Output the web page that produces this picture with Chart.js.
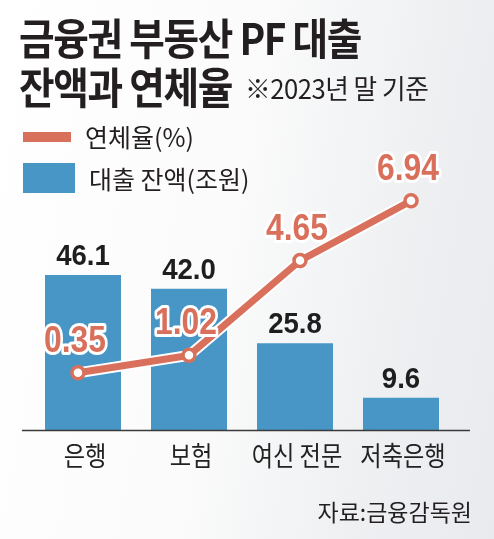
<!DOCTYPE html>
<html>
<head>
<meta charset="utf-8">
<script src="https://cdn.jsdelivr.net/npm/chart.js@4.4.0/dist/chart.umd.min.js"></script>
<style>
    * {
        margin: 0;
        padding: 0;
    }

    body {
        width: 494px;
        height: 539px;
        overflow: hidden;
        position: relative;
        font-family: "Noto Sans CJK KR", "Noto Sans", sans-serif;
        color: #231f20;
        background: linear-gradient(100deg, #ffffff 0%, #fbfbfb 45%, #eef0f2 75%, #e8eaee 100%);
    }

    #chart {
        position: absolute;
        left: 0;
        top: 0;
    }

    .title {
        position: absolute;
        left: 19px;
        font-weight: bold;
        font-size: 43px;
        letter-spacing: -1.5px;
        line-height: 1;
        transform-origin: left top;
        transform: scaleX(0.9);
        white-space: nowrap;
    }

    .note {
        position: absolute;
        left: 245px;
        top: 74px;
        font-size: 27px;
        line-height: 1;
        letter-spacing: -0.5px;
        transform-origin: left top;
        transform: scaleX(0.95);
        white-space: nowrap;
    }

    .legend {
        position: absolute;
        left: 23px;
        font-size: 25px;
        line-height: 1;
        white-space: nowrap;
        display: flex;
        align-items: center;
    }

    .legend span.mark {
        display: inline-block;
        margin-right: 14px;
    }

    .source {
        position: absolute;
        right: 22px;
        top: 494px;
        font-size: 23px;
        white-space: nowrap;
    }
</style>
</head>
<body>
<canvas id="chart" width="494" height="539"></canvas>

<div class="title" style="top: 15px;">금융권 부동산 PF 대출</div>
<div class="title" style="top: 64px;">잔액과 연체율</div>
<div class="note">※2023년 말 기준</div>

<div class="legend" style="top: 124px;"><span class="mark" style="width: 48px; height: 10px; background: #d9705c;"></span>연체율(%)</div>
<div class="legend" style="top: 163px;"><span class="mark" style="width: 52px; height: 30px; background: #4896c6;"></span>대출 잔액(조원)</div>

<div class="source">자료:금융감독원</div>

<script>
// data
const categories = ["은행", "보험", "여신 전문", "저축은행"];
const loanBalance = [46.1, 42.0, 25.8, 9.6];      // 조원
const overdueRate = [0.35, 1.02, 4.65, 6.94];     // %

const BLUE = "#4896c6";
const SALMON = "#d9705c";

// rate points on their own linear x scale (index based)
const ratePoints = overdueRate.map((v, i) => ({ x: i, y: v }));

// draw text squeezed horizontally (the original uses a condensed face)
function squeezedText(ctx, txt, x, y, sx, stroke) {
    ctx.save();
    ctx.translate(x, y);
    ctx.scale(sx, 1);
    if (stroke) ctx.strokeText(txt, 0, 0);
    ctx.fillText(txt, 0, 0);
    ctx.restore();
}

//  baseline + category labels  //
const axisPlugin = {
    id: "axisLabels",
    afterDatasetsDraw(chart) {
        const { ctx, chartArea } = chart;
        const xScale = chart.scales.x;
        ctx.save();
        ctx.strokeStyle = "#3a3a3a";
        ctx.lineWidth = 1.5;
        ctx.beginPath();
        ctx.moveTo(22, chartArea.bottom + 0.5);
        ctx.lineTo(470, chartArea.bottom + 0.5);
        ctx.stroke();

        ctx.fillStyle = "#222";
        ctx.font = "27px 'Noto Sans CJK KR'";
        ctx.textAlign = "center";
        ctx.textBaseline = "middle";
        categories.forEach((c, i) => {
            squeezedText(ctx, c, xScale.getPixelForTick(i) + 2, chartArea.bottom + 26, 0.86, false);
        });
        ctx.restore();
    }
};

//  value labels  //
const valueLabelPlugin = {
    id: "valueLabels",
    afterDatasetsDraw(chart) {
        const ctx = chart.ctx;
        ctx.save();
        ctx.textAlign = "center";
        ctx.textBaseline = "alphabetic";

        // bars
        const barMeta = chart.getDatasetMeta(0);
        ctx.font = "bold 30px 'Liberation Sans', Arial, sans-serif";
        ctx.fillStyle = "#1e1e1e";
        barMeta.data.forEach((bar, i) => {
            squeezedText(ctx, loanBalance[i].toFixed(1), bar.x, bar.y - 10, 0.92, false);
        });

        // rates
        const lineMeta = chart.getDatasetMeta(2);
        ctx.font = "bold 37px 'Liberation Sans', Arial, sans-serif";
        ctx.lineJoin = "round";
        ctx.strokeStyle = "#ffffff";
        ctx.lineWidth = 6;
        ctx.fillStyle = SALMON;
        lineMeta.data.forEach((pt, i) => {
            squeezedText(ctx, overdueRate[i].toFixed(2), pt.x - 3, pt.y - 21, 0.86, true);
        });
        ctx.restore();
    }
};

const ctx = document.getElementById("chart").getContext("2d");

new Chart(ctx, {
    data: {
        labels: categories,
        datasets: [
            {
                type: "bar",
                label: "대출 잔액(조원)",
                data: loanBalance,
                backgroundColor: BLUE,
                borderWidth: 0,
                grouped: false,
                categoryPercentage: 0.717,
                barPercentage: 1,
                xAxisID: "x",
                yAxisID: "y",
                order: 3
            },
            {
                // white casing under the rate line
                type: "line",
                label: "casing",
                data: ratePoints,
                borderColor: "#ffffff",
                borderWidth: 11,
                pointRadius: 0,
                pointHoverRadius: 0,
                xAxisID: "x2",
                yAxisID: "y2",
                order: 2
            },
            {
                type: "line",
                label: "연체율(%)",
                data: ratePoints,
                borderColor: SALMON,
                borderWidth: 7,
                pointRadius: 6,
                pointBorderWidth: 3.5,
                pointBackgroundColor: "#ffffff",
                pointBorderColor: SALMON,
                pointHoverRadius: 6,
                xAxisID: "x2",
                yAxisID: "y2",
                order: 1
            }
        ]
    },
    options: {
        responsive: false,
        animation: false,
        layout: {
            padding: { left: 30, right: 40, top: 170, bottom: 109 }
        },
        plugins: {
            legend: { display: false },
            tooltip: { enabled: false }
        },
        scales: {
            x: {
                type: "category",
                offset: true,
                display: false
            },
            x2: {
                type: "linear",
                display: false,
                min: -0.432,
                max: 3.387
            },
            y: {
                display: false,
                min: 0,
                max: 77.3
            },
            y2: {
                display: false,
                min: -1.84,
                max: 8.12
            }
        }
    },
    plugins: [axisPlugin, valueLabelPlugin]
});
</script>
</body>
</html>
